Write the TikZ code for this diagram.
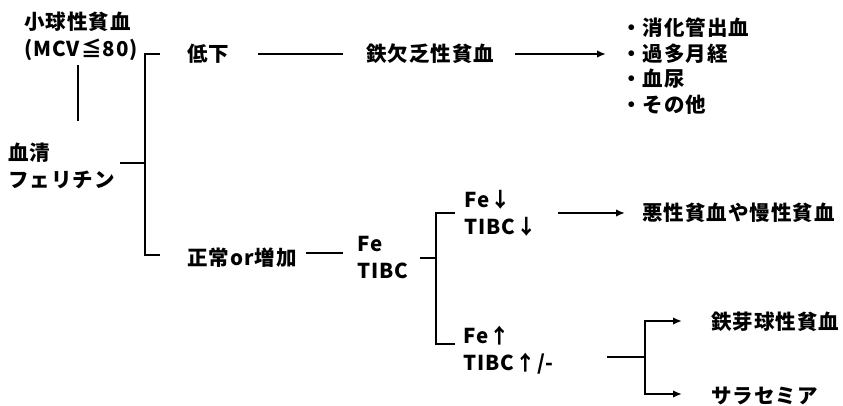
\documentclass[tikz,border=0pt]{standalone}
\usepackage{fontspec}
\setmainfont{Noto Sans CJK JP}[LetterSpace=5]
\usetikzlibrary{arrows.meta}
\begin{document}
\begin{tikzpicture}[x=1pt,y=-1pt,
  lbl/.style={font=\fontsize{20.5}{27}\selectfont\bfseries, inner sep=0pt, anchor=west, align=left},
  ln/.style={line width=2.6pt},
  arr/.style={line width=2.6pt,-{Latex[length=9pt,width=7.5pt]}}]
\useasboundingbox (0,0) rectangle (843,405);
% nodes
\node[lbl] (mcv) at (24,36) {小球性貧血\\(MCV≦80)};
\node[lbl] (fer) at (8,166) {血清\\フェリチン};
\node[lbl] (teika) at (187,54) {低下};
\node[lbl] (ida) at (366,54) {鉄欠乏性貧血};
\node[lbl, font=\fontsize{20.5}{25.7}\selectfont\bfseries] (list) at (621,66) {・消化管出血\\・過多月経\\・血尿\\・その他};
\node[lbl] (seijo) at (187,258) {正常or増加};
\node[lbl] (fe) at (357,258) {Fe\\TIBC};
\node[lbl] (fedown) at (464,213) {Fe↓\\TIBC↓};
\node[lbl] (aku) at (642,213) {悪性貧血や慢性貧血};
\node[lbl] (feup) at (463,350) {Fe↑\\TIBC↑/-};
\node[lbl] (sid) at (711,322) {鉄芽球性貧血};
\node[lbl] (thal) at (711,396) {サラセミア};
% junction coordinates
\coordinate (j1) at (145,163);
\coordinate (j2) at (436,258);
\coordinate (j3) at (645,357);
\coordinate (t1) at (160,54);
\coordinate (t2) at (160,255);
\coordinate (t3) at (455,213);
\coordinate (t4) at (455,344);
\coordinate (t5) at (682,321);
\coordinate (t6) at (682,394);
\coordinate (v1) at (78,65);
\coordinate (v2) at (78,121);
% connectors
\draw[ln] (v1) -- (v2);
\draw[ln] (120,163) -- (j1);
\draw[ln] (t1) -- (j1 |- t1) -- (j1 |- t2) -- (t2);
\draw[ln] (258,54) -- (343,54);
\draw[arr] (515,54) -- (606,54);
\draw[ln] (306,253) -- (343,253);
\draw[ln] (420,258) -- (j2);
\draw[ln] (t3) -- (j2 |- t3) -- (j2 |- t4) -- (t4);
\draw[arr] (558,213) -- (625,213);
\draw[ln] (607,357) -- (j3);
\draw[arr] (j3) |- (t5);
\draw[arr] (j3) |- (t6);
\end{tikzpicture}
\end{document}
